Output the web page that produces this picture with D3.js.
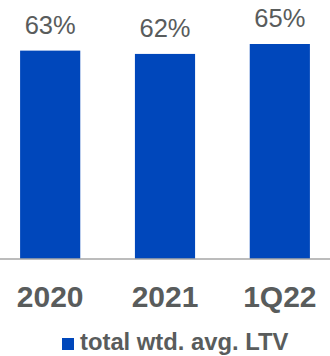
<!DOCTYPE html>
<html>
<head>
<meta charset="utf-8">
<script src="https://cdn.jsdelivr.net/npm/d3@7"></script>
<style>
  html, body { margin: 0; padding: 0; background: #fff; }
  svg { display: block; font-family: "Liberation Sans", Arial, sans-serif; }
</style>
</head>
<body>
<svg id="chart" width="330" height="356"></svg>
<script>
const categories = ["2020", "2021", "1Q22"];
const ltvValues = [63, 62, 65];
const valueLabels = ["63%", "62%", "65%"];
const seriesName = "total wtd. avg. LTV";

const W = 330, H = 356;
const baseY = 259;
const barColor = "#0047bb";
const textColor = "#595c5c";

const svg = d3.select("#chart");

const x = d3.scaleBand()
  .domain(categories)
  .range([0, W])
  .paddingInner(0.476)
  .paddingOuter(0.175);

const y = d3.scaleLinear()
  .domain([0, 65])
  .range([baseY, 44]);

// bars
svg.selectAll("rect.bar")
  .data(ltvValues)
  .join("rect")
  .attr("class", "bar")
  .attr("x", (d, i) => x(categories[i]))
  .attr("width", x.bandwidth())
  .attr("y", d => y(d))
  .attr("height", d => y(0) - y(d))
  .attr("fill", barColor);

// value labels
svg.selectAll("text.val")
  .data(ltvValues)
  .join("text")
  .attr("class", "val")
  .attr("x", (d, i) => x(categories[i]) + x.bandwidth() / 2)
  .attr("y", d => y(d) - 17)
  .attr("text-anchor", "middle")
  .attr("font-size", 25.5)
  .attr("fill", textColor)
  .text((d, i) => valueLabels[i]);

// x axis
const xAxis = d3.axisBottom(x).tickSize(0).tickPadding(0);
const gx = svg.append("g")
  .attr("transform", `translate(0,${baseY})`)
  .call(xAxis);
gx.select(".domain")
  .attr("d", `M0,0H${W}`)
  .attr("stroke", "#a6a6a6")
  .attr("stroke-width", 1.5);
gx.selectAll(".tick text")
  .attr("dy", 0)
  .attr("y", 48)
  .attr("font-size", 30)
  .attr("font-weight", "bold")
  .attr("font-family", "'Liberation Sans', Arial, sans-serif")
  .attr("fill", textColor);

// legend
const lg = svg.append("g").attr("transform", "translate(62,338)");
lg.append("rect")
  .attr("width", 12)
  .attr("height", 12)
  .attr("fill", barColor);
lg.append("text")
  .attr("x", 18)
  .attr("y", 12)
  .attr("font-size", 23.8)
  .attr("font-weight", "bold")
  .attr("fill", textColor)
  .text(seriesName);
</script>
</body>
</html>
